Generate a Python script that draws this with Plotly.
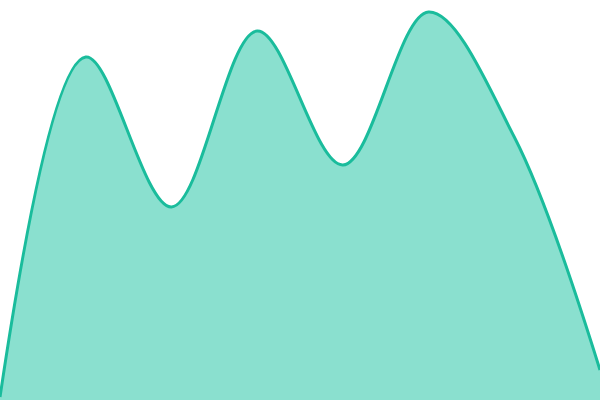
import plotly.graph_objects as go

# Data points (evenly spaced)
x_vals = [0, 1, 2, 3, 4, 5, 6, 7]
y_vals = [3, 343, 193, 369, 235, 388, 263, 30]

fig = go.Figure(go.Scatter(
    x=x_vals,
    y=y_vals,
    mode="lines",
    line=dict(color="#1abc9c", width=3, shape="spline", smoothing=1),
    fill="tozeroy",
    fillcolor="#8ae0cf",
    hoverinfo="skip",
))

fig.update_layout(
    width=600, height=400,
    margin=dict(l=0, r=0, t=0, b=0),
    paper_bgcolor="white", plot_bgcolor="white",
    showlegend=False,
    xaxis=dict(visible=False, range=[0, 7]),
    yaxis=dict(visible=False, range=[0, 400]),
)

# drop the default page margin so the chart fills the window
fig.write_html("out.html", config={"displayModeBar": False},
               post_script="document.body.style.margin='0';")
